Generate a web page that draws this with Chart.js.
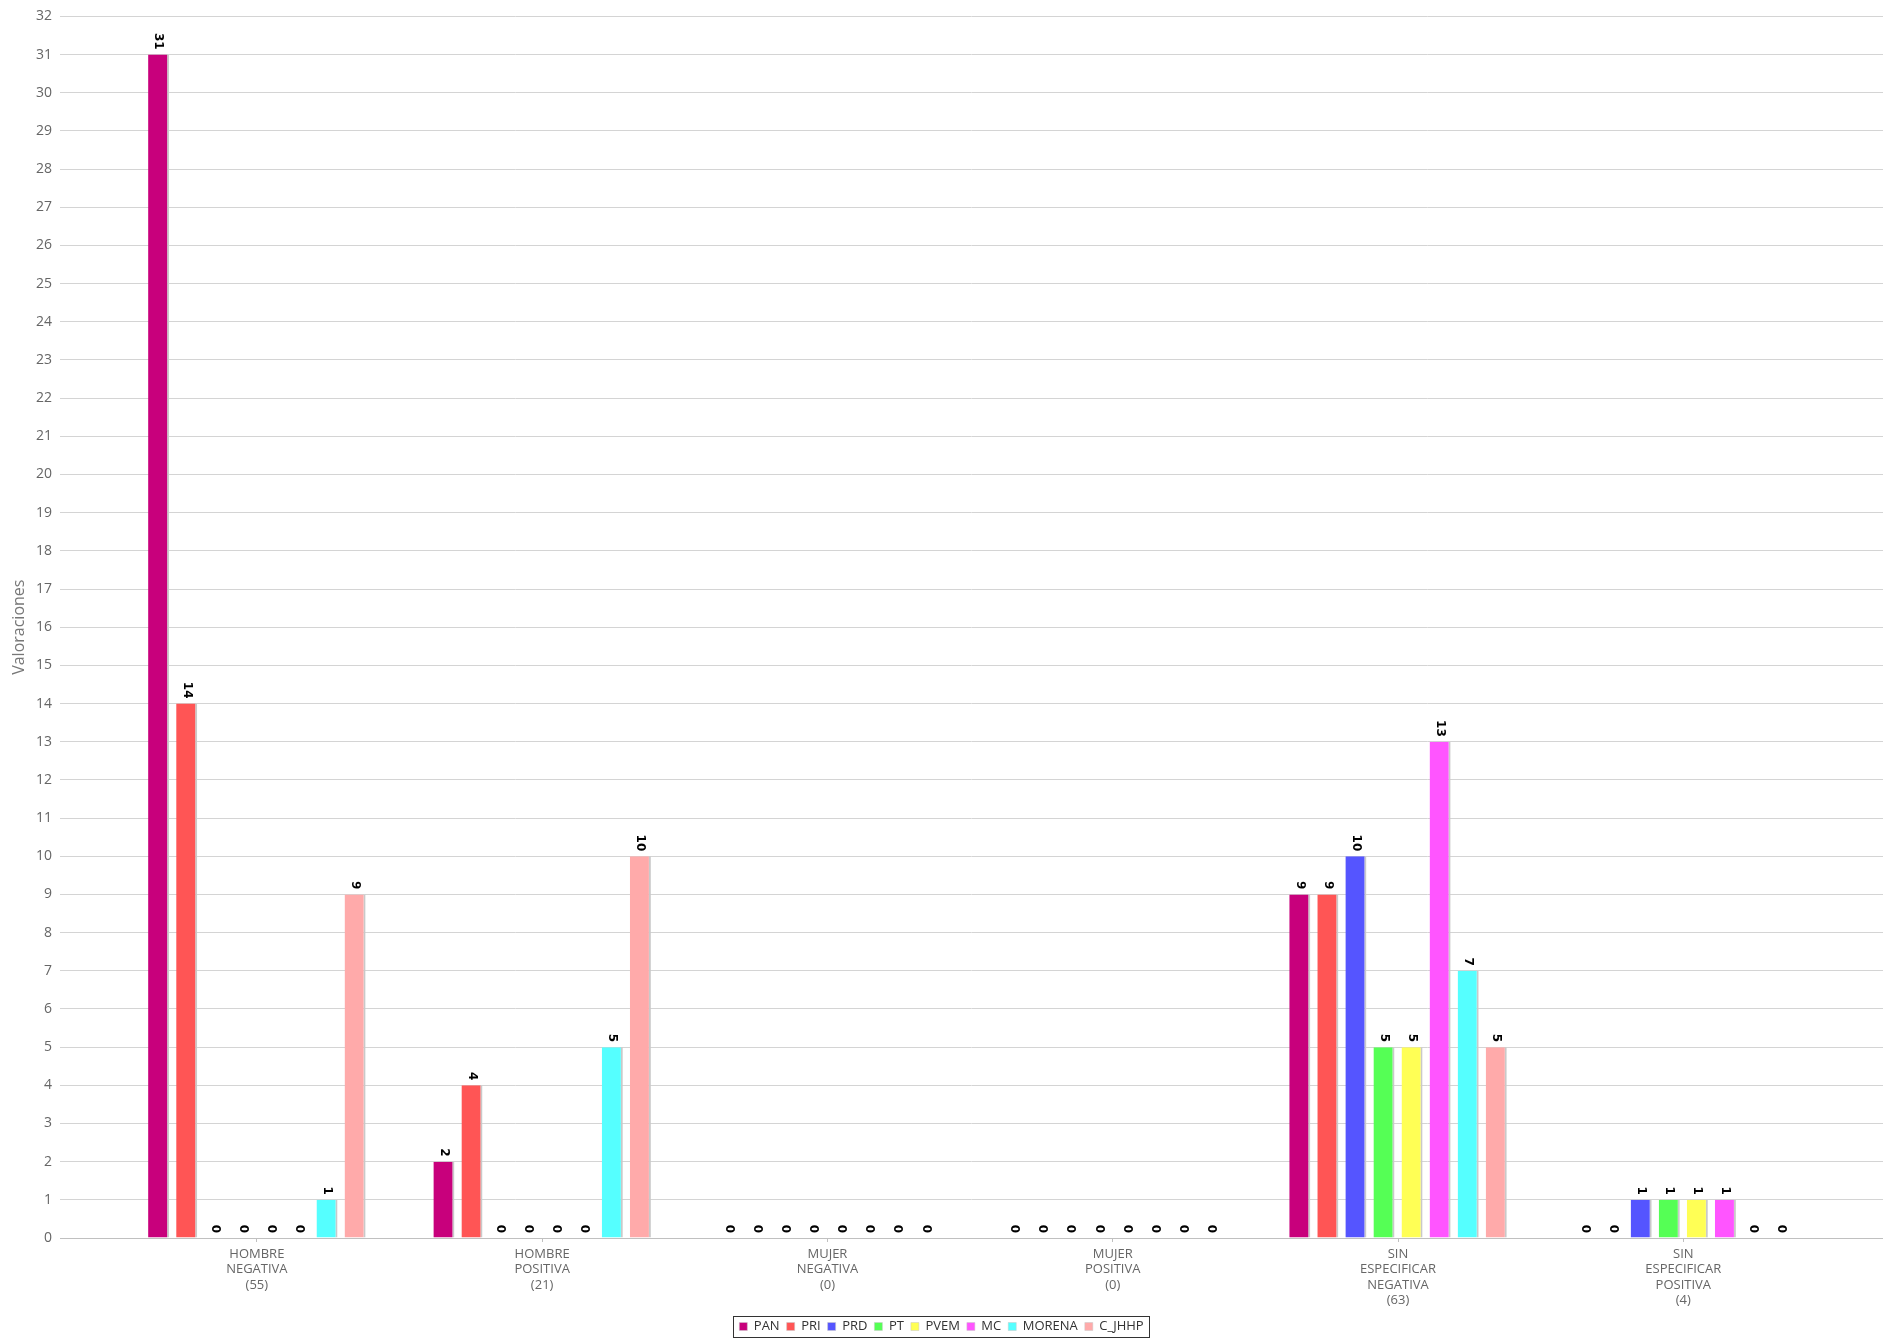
<!DOCTYPE html>
<html>
<head>
<meta charset="utf-8">
<script src="https://cdn.jsdelivr.net/npm/chart.js@4.4.1/dist/chart.umd.min.js"></script>
<style>
  html, body { margin: 0; padding: 0; background: #fff; }
  #wrap { width: 1883px; height: 1340px; }
</style>
</head>
<body>
<div id="wrap"><canvas id="grafica"></canvas></div>
<script>
// categorias del eje X
const categorias = ["HOMBRE NEGATIVA (55)", "HOMBRE POSITIVA (21)", "MUJER NEGATIVA (0)", "MUJER POSITIVA (0)", "SIN ESPECIFICAR NEGATIVA (63)", "SIN ESPECIFICAR POSITIVA (4)"];

// valoraciones por partido
const pan = [31, 2, 0, 0, 9, 0];
const pri = [14, 4, 0, 0, 9, 0];
const prd = [0, 0, 0, 0, 10, 1];
const pt = [0, 0, 0, 0, 5, 1];
const pvem = [0, 0, 0, 0, 5, 1];
const mc = [0, 0, 0, 0, 13, 1];
const morena = [1, 5, 0, 0, 7, 0];
const cJhhp = [9, 10, 0, 0, 5, 0];

const yTicks = { min: 0, max: 32, step: 1 };

const series = [
  { label: "PAN", valores: pan, color: "#c8007c" },
  { label: "PRI", valores: pri, color: "#ff5555" },
  { label: "PRD", valores: prd, color: "#5555ff" },
  { label: "PT", valores: pt, color: "#55ff55" },
  { label: "PVEM", valores: pvem, color: "#ffff55" },
  { label: "MC", valores: mc, color: "#ff55ff" },
  { label: "MORENA", valores: morena, color: "#55ffff" },
  { label: "C_JHHP", valores: cJhhp, color: "#ffaaaa" },
];

const datasets = series.map((s) => {
  return {
    label: s.label,
    data: s.valores.map((v, i) => ({ x: i, y: v })),
    backgroundColor: s.color,
    borderColor: "#c9c9c9",
    borderWidth: { left: 0, right: 2, top: 0, bottom: 0 },
    borderSkipped: false,
    categoryPercentage: 0.787,
    barPercentage: 0.75,
  };
});

// etiquetas de valor giradas sobre cada barra
const etiquetas = {
  id: "etiquetas",
  afterDatasetsDraw(chart) {
    const ctx = chart.ctx;
    ctx.save();
    ctx.font = "bold 12px 'DejaVu Sans'";
    ctx.fillStyle = "#000";
    ctx.textAlign = "right";
    ctx.textBaseline = "middle";
    chart.data.datasets.forEach((ds, d) => {
      chart.getDatasetMeta(d).data.forEach((bar, i) => {
        ctx.save();
        ctx.translate(bar.x, bar.y - 5);
        ctx.rotate(Math.PI / 2);
        ctx.fillText(String(ds.data[i].y), 0, 0);
        ctx.restore();
      });
    });
    ctx.restore();
  },
};

// recuadro de la leyenda
const marcoLeyenda = {
  id: "marcoLeyenda",
  afterDraw(chart) {
    const boxes = chart.legend.legendHitBoxes;
    if (!boxes || !boxes.length) return;
    let l = Infinity, r = -Infinity, t = Infinity, b = -Infinity;
    boxes.forEach((h) => {
      l = Math.min(l, h.left);
      r = Math.max(r, h.left + h.width);
      t = Math.min(t, h.top);
      b = Math.max(b, h.top + h.height);
    });
    const ctx = chart.ctx;
    ctx.save();
    ctx.strokeStyle = "#333";
    ctx.lineWidth = 1;
    ctx.strokeRect(Math.round(l - 6) + 0.5, Math.round(t - 4) + 0.5, Math.round(r - l + 12), Math.round(b - t + 8));
    ctx.restore();
  },
};

new Chart(document.getElementById("grafica"), {
  type: "bar",
  data: { datasets },
  plugins: [etiquetas, marcoLeyenda],
  options: {
    responsive: true,
    maintainAspectRatio: false,
    animation: false,
    layout: { padding: { top: 14, left: 0, right: 0, bottom: -3 } },
    plugins: {
      tooltip: { enabled: false },
      legend: {
        position: "bottom",
        labels: {
          boxWidth: 8,
          boxHeight: 8,
          padding: 7,
          color: "#333",
          font: { family: "'Open Sans'", size: 13 },
        },
      },
    },
    scales: {
      x: {
        type: "linear",
        offset: false,
        min: -0.69,
        max: 5.7,
        afterFit(s) { s.height = 75; },
        grid: { offset: false, drawOnChartArea: false, drawTicks: true, tickLength: 4, color: "#c0c0c0" },
        border: { display: true, color: "#c0c0c0" },
        ticks: {
          stepSize: 1,
          includeBounds: false,
          autoSkip: false,
          maxRotation: 0,
          padding: 4,
          color: "#666",
          font: { family: "'Open Sans'", size: 13, lineHeight: 1.2 },
          callback: (v) => (Number.isInteger(v) && categorias[v] ? categorias[v].split(" ") : ""),
        },
      },
      y: {
        min: yTicks.min,
        max: yTicks.max,
        afterFit(s) { s.width = 60; },
        grid: { color: "#d4d4d4", drawTicks: false },
        border: { display: false },
        title: {
          display: true,
          text: "Valoraciones",
          color: "#777",
          padding: { top: 10, bottom: 0 },
          font: { family: "'Open Sans'", size: 16 },
        },
        ticks: {
          stepSize: yTicks.step,
          padding: 8,
          color: "#666",
          font: { family: "'Open Sans'", size: 14 },
        },
      },
    },
  },
});
</script>
</body>
</html>
